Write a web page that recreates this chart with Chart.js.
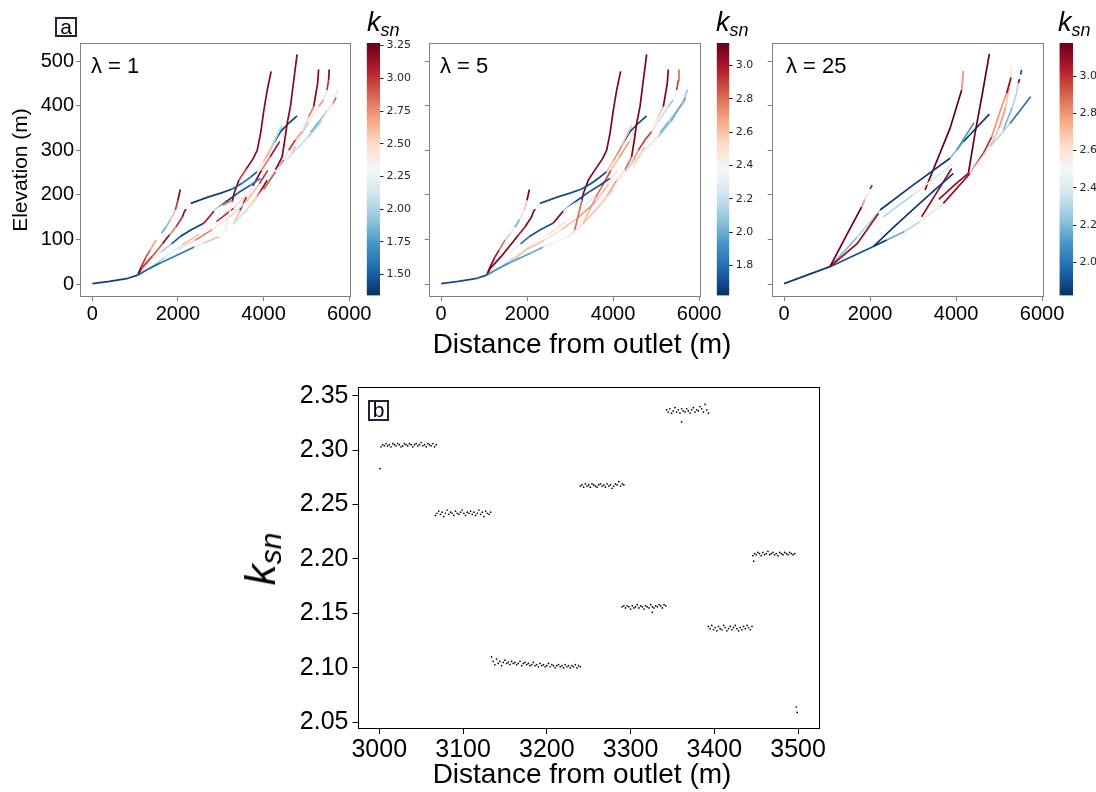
<!DOCTYPE html>
<html><head><meta charset="utf-8">
<script src="https://cdn.jsdelivr.net/npm/chart.js@4.4.0/dist/chart.umd.min.js"></script>
<style>
body{margin:0;background:#fff;width:1096px;height:792px;overflow:hidden;position:relative;font-family:"Liberation Sans",Arial,sans-serif;}
canvas{position:absolute;left:0;top:0;}
.t{position:absolute;white-space:nowrap;color:#000;line-height:1;}
.box{position:absolute;border:2px solid #22223a;box-sizing:border-box;text-align:center;font-size:21px;line-height:16px;color:#000;}
.ksn{position:absolute;white-space:nowrap;font-style:italic;font-size:27px;line-height:27px;color:#000;}
.ksn .s{font-size:18px;position:relative;top:5px;}
.bk{position:absolute;white-space:nowrap;font-style:italic;font-size:42px;line-height:42px;color:#000;transform:translate(-50%,-50%) rotate(-90deg);}
.bk .s{font-size:30px;position:relative;top:6px;}
</style></head><body>
<canvas id="p1" width="1096" height="792"></canvas>
<canvas id="p2" width="1096" height="792"></canvas>
<canvas id="p3" width="1096" height="792"></canvas>
<canvas id="c1" width="1096" height="792"></canvas>
<canvas id="c2" width="1096" height="792"></canvas>
<canvas id="c3" width="1096" height="792"></canvas>
<canvas id="pb" width="1096" height="792"></canvas>

<div class="box" style="left:55px;top:17px;width:22px;height:20px;">a</div>
<div class="box" style="left:368px;top:400px;width:21px;height:21px;">b</div>
<div class="t" style="left:91px;top:55px;font-size:22px;">λ = 1</div>
<div class="t" style="left:440px;top:55px;font-size:22px;">λ = 5</div>
<div class="t" style="left:786px;top:55px;font-size:22px;">λ = 25</div>
<div class="ksn" style="left:367px;top:9px;"><span>k</span><span class="s">sn</span></div>
<div class="ksn" style="left:716px;top:9px;"><span>k</span><span class="s">sn</span></div>
<div class="ksn" style="left:1058px;top:9px;"><span>k</span><span class="s">sn</span></div>
<div class="t" style="left:582px;top:330px;font-size:28px;transform:translateX(-50%);">Distance from outlet (m)</div>
<div class="t" style="left:582px;top:760px;font-size:28px;transform:translateX(-50%);">Distance from outlet (m)</div>
<div class="bk" style="left:263px;top:559px;"><span>k</span><span class="s">sn</span></div>

<script>
// ---------- Panel a: river network, lambda = 1 and lambda = 5 (same profiles) ----------
const netX = [
  [0,400,800,1060],
  [1060,1300,1600,2100,2380,2600,2960,3300,3660,4000,4280,4650,5050,5350,5600,5680,5730],
  [1060,1150,1250,1350,1490,1620,1720,1830,1940,2000,2054],
  [1080,1140,1400,1643,1800,1953,2108,2147,2190],
  [2147,2250,2300,2700,3000,3270,3500,3700,3852,4000,4200,4433],
  [1080,1300,1600,1850,2046,2300,2612,2844,3050,3270],
  [2844,3100,3400,3700,3930],
  [3100,3270,3310,3425,3580,3750,3852,3930,4007,4085,4177],
  [3660,3852,4085,4278,4433,4495,4550,4627,4705,4782],
  [4317,4472,4588,4743,4898,5053,5170,5262,5285],
  [4472,4588,4743,4898,5053,5285,5402,5480,5518,5533],
  [4650,4900,5100,5300,5500,5620,5690],
  [3852,3950,4100,4250,4395,4580,4782],
  [1600,2000,2400,2800,3200,3600,3900,4100],
  [3300,3450,3600,3750,3950,4150,4380,4500],
  [1300,1700,2100,2500,2900,3300,3600]
];
const netY = [
  [1,6,12,20],
  [20,33,48,70,83,92,106,135,173,212,252,292,330,365,405,422,436],
  [20,40,60,76,99,114,128,145,166,188,212],
  [22,35,62,91,110,128,151,162,168],
  [162,175,181,195,204,213,226,240,252,275,310,356],
  [22,48,72,90,106,121,137,164,177,188],
  [164,183,204,222,237],
  [118,185,203,233,256,280,300,338,390,435,477],
  [173,196,233,256,285,323,360,398,457,515],
  [256,278,300,323,342,375,398,450,481],
  [260,282,308,338,364,398,413,435,457,481],
  [292,315,340,365,390,405,418],
  [252,265,290,318,342,360,377],
  [48,78,98,122,150,185,225,255],
  [135,165,195,220,255,285,320,345],
  [33,60,88,112,140,170,200]
];
const ksnLam1 = [
  [1.4,1.4,1.4,1.4],
  [1.5,1.5,1.6,1.6,2.2,2.6,2.3,2.1,2.5,2.9,2.2,2.1,2.0,2.4,2.1,2.2,2.2],
  [3.2,3.0,2.9,2.7,null,1.8,1.9,2.6,3.0,3.2,3.2],
  [3.2,3.0,2.9,3.2,2.8,3.0,3.2,3.2,3.2],
  [2.3,2.3,1.4,1.4,1.4,1.5,1.6,1.5,2.4,2.6,2.0,1.9],
  [2.6,2.2,2.0,1.5,1.4,1.4,3.1,2.3,2.8,2.2],
  [1.5,1.4,1.5,1.6,1.6],
  [2.4,3.2,3.2,3.0,3.2,3.2,3.2,3.2,3.2,3.2,3.2],
  [2.8,3.2,2.2,3.2,3.2,3.2,3.2,3.2,3.2,3.2],
  [2.9,2.4,3.0,2.7,2.5,2.8,3.2,3.2,3.2],
  [2.3,2.6,2.2,2.0,2.4,2.7,2.2,3.0,3.2,3.2],
  [2.0,2.2,1.8,1.9,2.5,3.0,3.0],
  [2.2,2.1,1.9,1.4,1.4,1.4,1.4],
  [2.3,2.5,2.8,2.4,2.1,2.6,3.0,2.4],
  [2.6,3.1,2.4,3.2,2.8,3.1,2.3,2.6],
  [2.0,2.2,2.6,2.3,3.0,2.5,2.2]
];
const ksnLam5 = [
  [1.7,1.7,1.7,1.7],
  [1.9,1.9,1.95,2.0,2.3,2.4,2.5,2.6,2.55,2.4,2.2,2.3,2.1,2.0,2.1,2.1,2.1],
  [3.1,3.1,3.0,2.8,2.6,2.3,2.0,2.5,2.6,3.1,3.1],
  [3.1,3.1,3.1,3.1,3.0,3.1,3.1,3.1,3.1],
  [2.3,2.3,1.7,1.7,1.7,1.7,1.7,1.7,2.6,2.7,2.6,2.2],
  [2.5,2.4,2.3,1.8,1.7,1.7,3.1,2.4,2.3,2.3],
  [1.7,1.7,1.7,1.7,1.7],
  [2.8,3.1,3.1,3.1,3.1,3.1,3.1,3.1,3.1,3.1,3.1],
  [2.6,2.7,2.5,2.8,3.1,3.1,3.1,3.1,3.1,3.1],
  [2.6,2.7,2.9,2.9,2.5,2.6,3.1,3.1,3.1],
  [2.5,2.6,2.4,2.3,2.2,2.1,2.4,2.9,2.8,2.8],
  [2.2,2.4,2.0,2.1,2.7,2.8,2.8],
  [2.2,2.3,2.0,1.7,1.7,1.7,1.7],
  [2.6,2.6,2.5,2.6,2.7,2.6,2.5,2.5],
  [2.6,2.7,2.8,2.9,2.6,2.7,2.5,2.5],
  [2.2,2.3,2.4,2.5,2.4,2.3,2.3]
];
// ---------- lambda = 25 profiles ----------
const lam25X = [
  [0,1070],
  [1070,1500,1806,1880,1960,2000,2050],
  [1070,1705,2194],
  [1070,1700,2233,3000,3860],
  [2077,2500,3200,3938],
  [1700,2300,3000,3600,3900],
  [1070,2077,2388,2800,3163,3705,4325,4790,5256,5736],
  [3279,3860,4015,4132,4170],
  [3600,4000,4287,4442,4600,4775],
  [3200,3550,3899],
  [4015,4419],
  [3860,4171,4775],
  [4325,4636,4830,5062,5178,5279],
  [4790,5000,5150,5240,5295],
  [5100,5300,5400,5449,5480,5500,5527]
];
const lam25Y = [
  [1,39],
  [39,118,173,190,205,213,222],
  [39,91,158],
  [39,105,166,222,282],
  [84,123,185,248],
  [100,150,200,245,268],
  [39,84,99,118,140,181,248,308,360,420],
  [211,349,398,435,478],
  [190,225,248,338,420,516],
  [151,205,259],
  [300,362],
  [282,319,381],
  [248,293,330,398,428,463],
  [308,350,395,440,489],
  [345,395,425,450,460,470,480]
];
const ksnLam25 = [
  [1.85,1.85],
  [3.2,3.2,2.8,2.6,null,1.9,1.9],
  [3.1,3.1,3.1],
  [2.2,2.3,1.85,1.85,1.85],
  [1.85,1.85,1.85,1.85],
  [2.5,2.3,2.6,2.4,2.4],
  [1.9,1.85,2.15,2.3,2.6,3.1,2.6,2.3,2.0,2.0],
  [3.2,3.2,3.2,2.8,2.8],
  [3.1,3.1,3.2,3.2,3.2,3.2],
  [3.1,3.1,3.1],
  [2.1,2.1],
  [2.2,1.85,1.85],
  [3.1,3.0,2.8,2.8,3.1,3.1],
  [2.7,2.8,2.7,2.6,2.6],
  [2.2,2.3,2.3,3.1,null,1.9,1.9]
];
// colour-bar limits and ticks
const cbarLam1 = [1.34, 3.27], cbarStep1 = 0.25;
const cbarLam5 = [1.62, 3.134], cbarStep5 = 0.2;
const cbarLam25 = [1.823, 3.177], cbarStep25 = 0.2;
const elevTicks = [0, 100, 200, 300, 400, 500];
const distTicks = [0, 2000, 4000, 6000];

// ---------- Panel b: ksn along the selected reach ----------
const nodeSpacing = 2;
const clusterStart = [3002, 3067, 3134, 3240, 3290, 3343, 3393, 3446];
const ksnC1 = [2.303,2.305,2.304,2.306,2.304,2.305,2.303,2.306,2.305,2.304,2.306,2.305,2.303,2.304,2.306,2.305,2.304,2.306,2.305,2.303,2.305,2.306,2.304,2.305,2.307,2.304,2.305,2.303,2.306,2.305,2.304,2.306,2.303,2.305];
const ksnC2 = [2.240,2.242,2.244,2.241,2.243,2.239,2.242,2.245,2.241,2.243,2.242,2.240,2.244,2.242,2.241,2.243,2.245,2.242,2.240,2.243,2.242,2.244,2.241,2.243,2.240,2.242,2.245,2.241,2.243,2.239,2.244,2.242,2.241,2.243];
const ksnC3 = [2.110,2.106,2.103,2.108,2.104,2.106,2.102,2.105,2.107,2.104,2.105,2.103,2.106,2.104,2.105,2.103,2.104,2.106,2.102,2.104,2.105,2.103,2.104,2.102,2.103,2.105,2.102,2.103,2.101,2.104,2.102,2.103,2.101,2.102,2.104,2.101,2.103,2.102,2.100,2.102,2.103,2.101,2.102,2.100,2.103,2.101,2.102,2.100,2.102,2.101,2.103,2.100,2.102,2.101];
const ksnC4 = [2.267,2.268,2.266,2.269,2.267,2.268,2.266,2.269,2.268,2.267,2.266,2.268,2.269,2.267,2.268,2.266,2.269,2.267,2.268,2.265,2.267,2.269,2.268,2.271,2.267,2.269,2.268];
const ksnC5 = [2.156,2.157,2.155,2.157,2.156,2.154,2.157,2.155,2.156,2.158,2.155,2.157,2.156,2.154,2.157,2.156,2.155,2.158,2.156,2.155,2.157,2.156,2.158,2.157,2.155,2.158,2.157];
const ksnC6 = [2.337,2.335,2.338,2.334,2.336,2.339,2.335,2.337,2.334,2.338,2.336,2.335,2.338,2.336,2.334,2.337,2.339,2.335,2.337,2.336,2.340,2.338,2.335,2.342,2.337,2.334];
const ksnC7 = [2.138,2.136,2.139,2.135,2.137,2.134,2.138,2.136,2.135,2.139,2.137,2.134,2.136,2.138,2.135,2.137,2.139,2.136,2.134,2.137,2.135,2.138,2.136,2.139,2.137,2.135,2.138];
const ksnC8 = [2.203,2.205,2.204,2.206,2.205,2.203,2.206,2.204,2.205,2.207,2.204,2.205,2.206,2.204,2.205,2.203,2.206,2.205,2.204,2.206,2.205,2.204,2.206,2.205,2.204,2.205];
const extraX = [3001, 3361, 3326, 3447, 3498, 3499];
const extraY = [2.283, 2.326, 2.151, 2.198, 2.064, 2.059];
const bTicksX = [3000, 3100, 3200, 3300, 3400, 3500];
const bTicksY = [2.05, 2.10, 2.15, 2.20, 2.25, 2.30, 2.35];

// ---------- helpers ----------
Chart.defaults.font.family = '"Liberation Sans", Arial, sans-serif';
Chart.defaults.color = '#000';
const W = 1096, H = 792;
const RDBU_R = ['#053061','#2166ac','#4393c3','#92c5de','#d1e5f0','#f7f7f7','#fddbc7','#f4a582','#d6604d','#b2182b','#67001f'];
const STOPS = RDBU_R.map(h => [parseInt(h.slice(1,3),16), parseInt(h.slice(3,5),16), parseInt(h.slice(5,7),16)]);
function cmap(t){
  t = Math.max(0, Math.min(1, t));
  const f = t * 10, i = Math.min(9, Math.floor(f)), r = f - i, a = STOPS[i], b = STOPS[i+1];
  return 'rgb(' + [0,1,2].map(j => Math.round(a[j] + (b[j]-a[j])*r)).join(',') + ')';
}
function kColor(k, range){
  if (k === null || k === undefined) return 'rgba(0,0,0,0)';
  return cmap((k - range[0]) / (range[1] - range[0]));
}
const framePlugin = {
  id: 'frame',
  afterDraw(chart, args, opts){
    const a = chart.chartArea, c = chart.ctx;
    c.save(); c.strokeStyle = opts.color || '#000'; c.lineWidth = opts.width || 1;
    c.strokeRect(Math.round(a.left)+0.5, Math.round(a.top)+0.5, Math.round(a.right-a.left)-1, Math.round(a.bottom-a.top)-1);
    c.restore();
  }
};
function fixPad(s){ s.paddingLeft = 0; s.paddingRight = 0; s.paddingTop = 0; s.paddingBottom = 0; }

function profilePanel(id, rect, xs, ys, ks, range, showY){
  const yW = showY ? rect.l : 10, xH = 40;
  const datasets = xs.map((xr, r) => ({
    data: xr.map((v, i) => ({x: v, y: ys[r][i]})),
    borderWidth: 1.7, pointRadius: 0, tension: 0, fill: false,
    borderColor: kColor(ks[r][0], range),
    segment: { borderColor: c => kColor(ks[r][c.p0DataIndex], range) }
  }));
  new Chart(document.getElementById(id), {
    type: 'line', data: {datasets}, plugins: [framePlugin],
    options: {
      responsive: false, animation: false, events: [],
      layout: {padding: {left: rect.l - yW, top: rect.t, right: W - rect.r, bottom: H - rect.b - xH}},
      plugins: {legend: {display: false}, tooltip: {enabled: false}, frame: {color: '#808080', width: 1}},
      scales: {
        x: {type: 'linear', min: -287, max: 6030,
          afterBuildTicks: s => { s.ticks = distTicks.map(v => ({value: v})); },
          ticks: {callback: v => String(v), font: {size: 20}, color: '#000', padding: 1, maxRotation: 0, autoSkip: false},
          grid: {drawOnChartArea: false, drawTicks: true, tickLength: 4, color: '#808080'},
          border: {display: false},
          afterFit: s => { s.height = xH; fixPad(s); }},
        y: {type: 'linear', min: -29, max: 540.5,
          afterBuildTicks: s => { s.ticks = elevTicks.map(v => ({value: v})); },
          ticks: {callback: v => showY ? String(v) : '', font: {size: 20}, color: '#000', padding: 2},
          grid: {drawOnChartArea: false, drawTicks: true, tickLength: 4, color: '#808080'},
          border: {display: false},
          title: {display: showY, text: 'Elevation (m)', font: {size: 21}, color: '#000', padding: {top: 9, bottom: 0}},
          afterFit: s => { s.width = yW; fixPad(s); }}
      }
    }
  });
}

function colorbar(id, rect, range, step, dec){
  const yW = 40;
  new Chart(document.getElementById(id), {
    type: 'bar',
    data: {labels: ['c'], datasets: [{
      data: [[range[0], range[1]]], borderWidth: 0, barPercentage: 1, categoryPercentage: 1,
      backgroundColor: c => {
        const a = c.chart.chartArea; if (!a) return '#888';
        const g = c.chart.ctx.createLinearGradient(0, a.bottom, 0, a.top);
        RDBU_R.forEach((s, i) => g.addColorStop(i / 10, s));
        return g;
      }
    }]},
    options: {
      responsive: false, animation: false, events: [],
      layout: {padding: {left: rect.l, top: rect.t, right: W - rect.r - yW, bottom: H - rect.b}},
      plugins: {legend: {display: false}, tooltip: {enabled: false}},
      scales: {
        x: {display: false},
        y: {position: 'right', min: range[0], max: range[1],
          ticks: {stepSize: step, includeBounds: false, callback: v => v.toFixed(dec),
                  font: {size: 11, family: '"DejaVu Sans", sans-serif'}, color: '#262626', padding: 3},
          grid: {drawOnChartArea: false, drawTicks: true, tickLength: 3.5, color: '#262626'},
          border: {display: false},
          afterFit: s => { s.width = yW; fixPad(s); }}
      }
    }
  });
}

profilePanel('p1', {l: 80, t: 43, r: 350.5, b: 297}, netX, netY, ksnLam1, cbarLam1, true);
profilePanel('p2', {l: 428.7, t: 43, r: 700.3, b: 297}, netX, netY, ksnLam5, cbarLam5, false);
profilePanel('p3', {l: 771.7, t: 43, r: 1043.3, b: 297}, lam25X, lam25Y, ksnLam25, cbarLam25, false);
colorbar('c1', {l: 366.7, t: 43, r: 380, b: 295.5}, cbarLam1, cbarStep1, 2);
colorbar('c2', {l: 716.7, t: 43, r: 729.3, b: 295.5}, cbarLam5, cbarStep5, 1);
colorbar('c3', {l: 1059.5, t: 43, r: 1073, b: 295.5}, cbarLam25, cbarStep25, 1);

// bottom scatter
const clusters = [ksnC1, ksnC2, ksnC3, ksnC4, ksnC5, ksnC6, ksnC7, ksnC8];
const pts = [];
clusters.forEach((arr, c) => arr.forEach((v, i) => pts.push({x: clusterStart[c] + i * nodeSpacing, y: v})));
extraX.forEach((x, i) => pts.push({x, y: extraY[i]}));
(function(){
  const rect = {l: 357.5, t: 387, r: 819, b: 729}, yW = 100, xH = 50;
  new Chart(document.getElementById('pb'), {
    type: 'scatter',
    data: {datasets: [{data: pts, pointRadius: 0.85, pointBorderWidth: 0, pointBackgroundColor: '#000', showLine: false}]},
    plugins: [framePlugin],
    options: {
      responsive: false, animation: false, events: [],
      layout: {padding: {left: rect.l - yW, top: rect.t, right: W - rect.r, bottom: H - rect.b - xH}},
      plugins: {legend: {display: false}, tooltip: {enabled: false}, frame: {color: '#000', width: 1}},
      scales: {
        x: {type: 'linear', min: 2974, max: 3525,
          afterBuildTicks: s => { s.ticks = bTicksX.map(v => ({value: v})); },
          ticks: {callback: v => String(v), font: {size: 25}, color: '#000', padding: 1, maxRotation: 0, autoSkip: false},
          grid: {drawOnChartArea: false, drawTicks: true, tickLength: 5, color: '#000'},
          border: {display: false},
          afterFit: s => { s.height = xH; fixPad(s); }},
        y: {type: 'linear', min: 2.0438, max: 2.358,
          afterBuildTicks: s => { s.ticks = bTicksY.map(v => ({value: v})); },
          ticks: {callback: v => v.toFixed(2), font: {size: 25}, color: '#000', padding: 4, autoSkip: false},
          grid: {drawOnChartArea: false, drawTicks: true, tickLength: 5, color: '#000'},
          border: {display: false},
          afterFit: s => { s.width = yW; fixPad(s); }}
      }
    }
  });
})();
</script>
</body></html>
